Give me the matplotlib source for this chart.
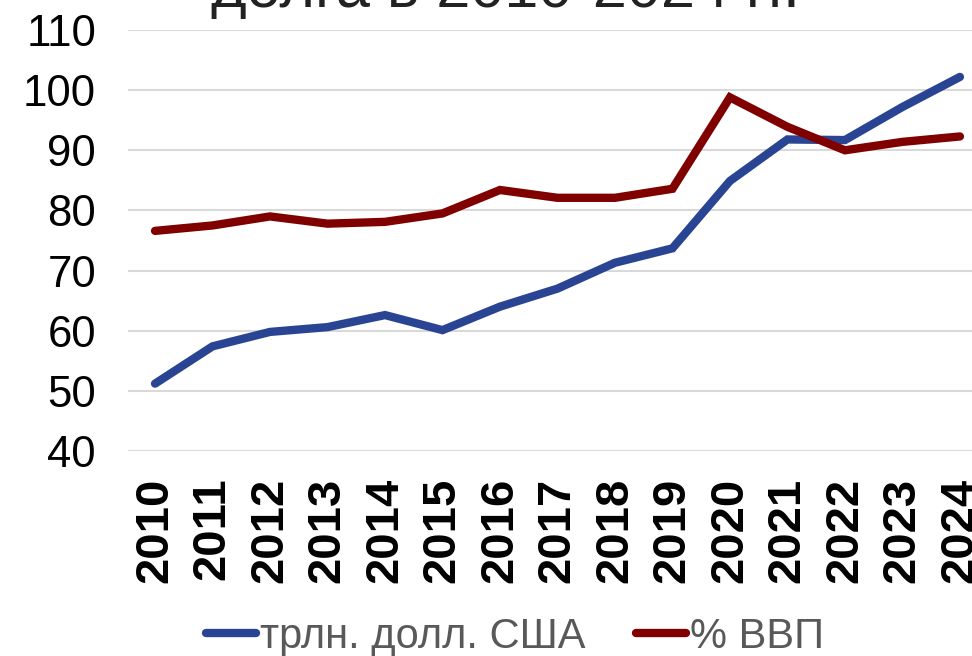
import matplotlib.pyplot as plt
from matplotlib.lines import Line2D

plt.rcParams['font.family'] = ['Liberation Sans', 'DejaVu Sans']

# данные
years = ['2010', '2011', '2012', '2013', '2014', '2015', '2016', '2017',
         '2018', '2019', '2020', '2021', '2022', '2023', '2024']
debt_trln = [51.2, 57.4, 59.8, 60.6, 62.6, 60.1, 64.0, 67.0,
             71.3, 73.7, 84.9, 91.8, 91.7, 97.2, 102.2]
debt_gdp = [76.6, 77.5, 79.0, 77.8, 78.1, 79.5, 83.4, 82.1,
            82.1, 83.6, 98.8, 93.9, 90.0, 91.4, 92.3]
yticks = [40, 50, 60, 70, 80, 90, 100, 110]

blue = '#2a4494'
red = '#800000'

W, H = 972, 656
fig = plt.figure(figsize=(W / 100, H / 100), dpi=100)
ax = fig.add_axes([128 / W, 1 - 451 / H, (W - 128) / W, (451 - 30) / H])

x = list(range(len(years)))
ax.plot(x, debt_trln, color=blue, lw=6, solid_capstyle='round',
        solid_joinstyle='miter', clip_on=False, zorder=3)
ax.plot(x, debt_gdp, color=red, lw=6, solid_capstyle='round',
        solid_joinstyle='miter', clip_on=False, zorder=3)

ax.set_xlim(-0.47, 14.21)
ax.set_ylim(40, 110)
ax.set_yticks(yticks)
ax.set_xticks(x)
ax.set_xticklabels(years, rotation=90, fontsize=34, fontweight='bold')
ax.tick_params(axis='x', length=0, pad=19)
ax.tick_params(axis='y', length=0, pad=23, labelsize=31.5)
ax.grid(axis='y', color='#d9d9d9', lw=1.5)
ax.set_axisbelow(True)
for s in ax.spines.values():
    s.set_visible(False)

# заголовок (верхняя часть обрезана, как на исходнике)
fig.text(0.52, 1 - 20 / H, 'долга в 2010-2024 гг.', ha='center', va='bottom',
         fontsize=44, color='#222222')

handles = [Line2D([], [], color=blue, lw=6, solid_capstyle='round'),
           Line2D([], [], color=red, lw=6, solid_capstyle='round')]
fig.legend(handles, ['трлн. долл. США', '% ВВП'], loc='center',
           bbox_to_anchor=(0.53, 1 - 637 / H), ncol=2, frameon=False,
           fontsize=30, labelcolor='#595959', handlelength=1.2,
           handletextpad=0.1, columnspacing=1.2, borderpad=0)

fig.savefig('out.png', dpi=100)
